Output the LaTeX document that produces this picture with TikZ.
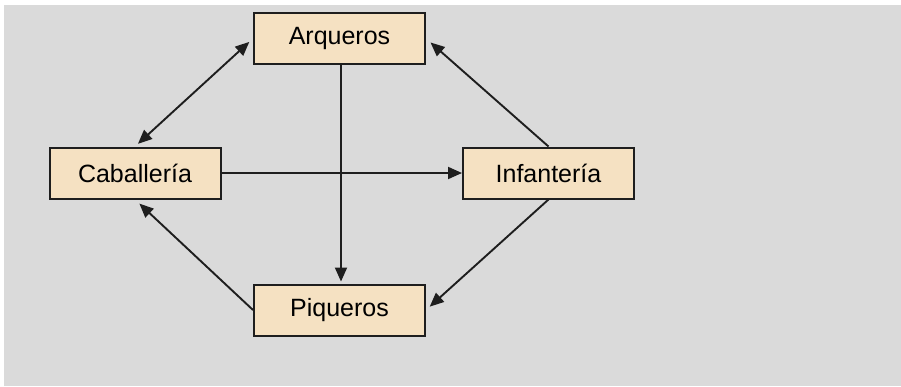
\documentclass[tikz,border=0pt]{standalone}
\usepackage{fontspec}
\setmainfont{Liberation Sans}
\usetikzlibrary{arrows.meta}
\definecolor{bgray}{HTML}{DADADA}
\definecolor{boxfill}{HTML}{F5E1C2}
\definecolor{ink}{HTML}{1E1E1E}
\begin{document}
\begin{tikzpicture}[x=1pt,y=-1pt,
  unitbox/.style={draw=ink,line width=2pt,fill=boxfill,minimum width=171pt,minimum height=51pt,inner sep=0pt,font=\fontsize{25}{29}\selectfont},
  conn/.style={draw=ink,line width=1.9pt,-{Triangle[length=14pt,width=12pt]}},
  conn2/.style={draw=ink,line width=1.9pt,{Triangle[length=14pt,width=12pt]}-{Triangle[length=14pt,width=12pt]}}]
\useasboundingbox (0,0) rectangle (901,386);
\fill[white] (0,0) rectangle (901,386);
\fill[bgray] (4,5) rectangle (901,386);
\node[unitbox] (arq) at (339.5,38.5) {Arqueros};
\node[unitbox] (piq) at (339.5,310) {Piqueros};
\node[unitbox] (cab) at (135,173) {Caballería};
\node[unitbox] (inf) at (548.5,173) {Infantería};
\draw[conn2,shorten <=4pt,shorten >=5pt] (cab.north) -- (arq.west);
\draw[conn,shorten >=6pt] (inf.north) -- (arq.east);
\draw[conn] (cab.east) -- (inf.west);
\draw[conn,shorten >=2pt] ([xshift=1.5pt]arq.south) -- ([xshift=1.5pt]piq.north);
\draw[conn,shorten >=5pt] (inf.south) -- (piq.east);
\draw[conn,shorten >=6pt] (piq.west) -- (cab.south);
\end{tikzpicture}
\end{document}
